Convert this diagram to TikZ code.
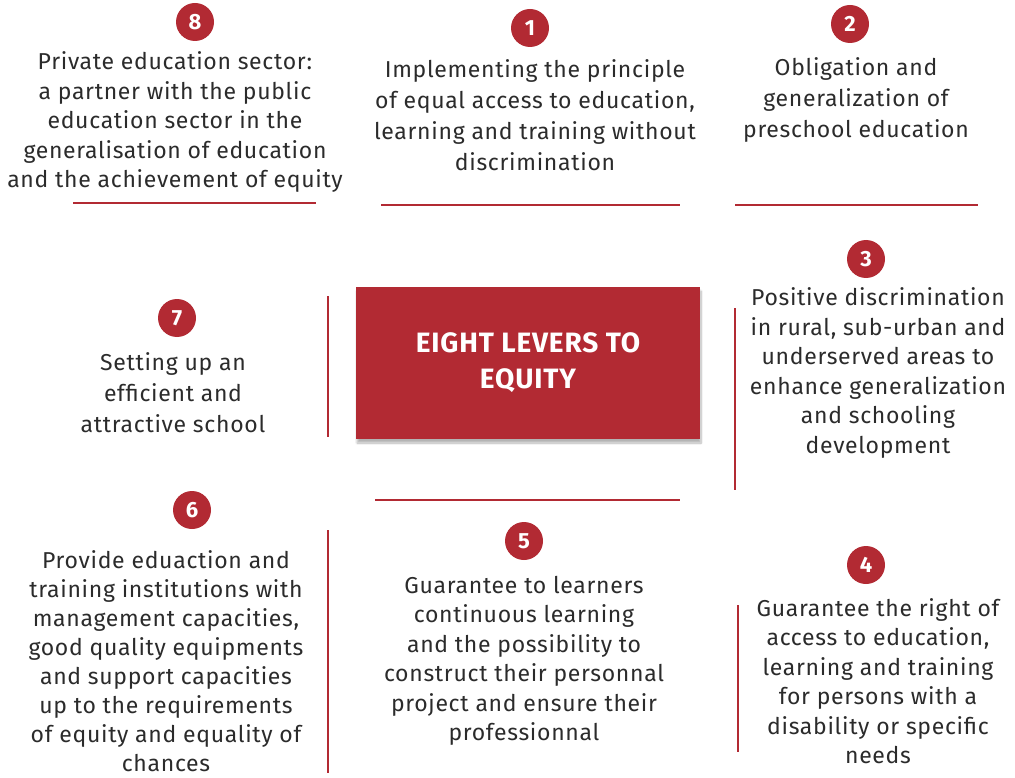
\documentclass[tikz,border=0pt]{standalone}
\usepackage{fontspec}
\setmainfont{Fira Sans}[LetterSpace=3]
\usepackage{xcolor}
\usetikzlibrary{positioning, shadows.blur}
\definecolor{levred}{HTML}{B22A33}
\definecolor{levtxt}{HTML}{2B2B2B}

\begin{document}
\begin{tikzpicture}[
    x=1pt, y=-1pt,
    lever/.style={align=center, inner sep=0pt, text=levtxt, font=\fontsize{23}{29.5}\selectfont},
    loose/.style={lever, font=\fontsize{23}{31}\selectfont},
    tight/.style={lever, font=\fontsize{23}{29}\selectfont},
    num/.style={circle, fill=levred, text=white, minimum size=38pt, inner sep=0pt, font=\fontsize{22}{24}\selectfont\bfseries},
    core/.style={rectangle, fill=levred, text=white, minimum width=344pt, minimum height=152pt, align=center, inner sep=0pt,
      font=\fontsize{28}{36}\selectfont\bfseries, blur shadow={shadow blur steps=8, shadow xshift=1pt, shadow yshift=-4pt, shadow opacity=30}},
    rule/.style={draw=levred, line width=1.5pt}
  ]
  \useasboundingbox (0,0) rectangle (1015,778);

  % centre box
  \node[core] (eq) at (528,363) {EIGHT LEVERS TO\\EQUITY};

  % numbered levers
  \node[num] (n1) at (530,28) {1};
  \node[num] (n2) at (850,24) {2};
  \node[num] (n3) at (866,259) {3};
  \node[num] (n4) at (866,565) {4};
  \node[num] (n5) at (524,541) {5};
  \node[num] (n6) at (192,510) {6};
  \node[num] (n7) at (177,318) {7};
  \node[num] (n8) at (195,22) {8};

  % lever texts
  \node[loose] (t1) at (535,115.5) {Implementing the principle\\of equal access to education,\\learning and training without\\discrimination};
  \node[loose] (t2) at (856,100) {Obligation and\\generalization of\\preschool education};
  \node[lever] (t3) at (878,373) {Positive discrimination\\in rural, sub-urban and\\underserved areas to\\enhance generalization\\and schooling\\development};
  \node[lever] (t4) at (878,681) {Guarantee the right of\\access to education,\\learning and training\\for persons with a\\disability or specific\\needs};
  \node[lever] (t5) at (524,661) {Guarantee to learners\\continuous learning\\and the possibility to\\construct their personnal\\project and ensure their\\professionnal};
  \node[tight] (t6) at (166,661) {Provide eduaction and\\training institutions with\\management capacities,\\good quality equipments\\and support capacities\\up to the requirements\\of equity and equality of\\chances};
  \node[loose] (t7) at (173,393) {Setting up an\\efficient and\\attractive school};
  \node[lever] (t8) at (175,122) {Private education sector:\\a partner with the public\\education sector in the\\generalisation of education\\and the achievement of equity};

  % separating rules
  \draw[rule] (73,203) -- (316,203);
  \draw[rule] (381,205) -- (680,205);
  \draw[rule] (735,205) -- (978,205);
  \draw[rule] (328,296) -- (328,437);
  \draw[rule] (735,308) -- (735,490);
  \draw[rule] (375,500) -- (680,500);
  \draw[rule] (328,530) -- (328,773);
  \draw[rule] (738,605) -- (738,752);
\end{tikzpicture}
\end{document}
